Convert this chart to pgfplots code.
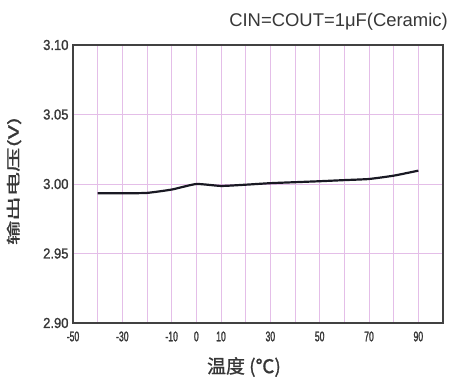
\documentclass[border=0pt]{standalone}
\usepackage{fontspec}
\setmainfont{Liberation Sans}
\newfontfamily\cjk[FakeBold=1]{Noto Sans CJK SC}
\newfontfamily\narrowx[FakeStretch=0.62, FakeBold=1.5]{Liberation Sans}
\newfontfamily\narrowy[FakeStretch=0.9, FakeBold=1.2]{Liberation Sans}
\usepackage{pgfplots}
\pgfplotsset{compat=1.18}
\definecolor{gridpink}{RGB}{228,190,232}
\definecolor{framegray}{RGB}{65,65,65}
\definecolor{curvecol}{RGB}{25,25,35}
\definecolor{labgray}{RGB}{55,55,55}
\begin{document}
\begin{tikzpicture}[x=1bp,y=1bp]
\useasboundingbox (0,0) rectangle (451,383);
\begin{axis}[at={(73bp,60bp)}, anchor=south west, scale only axis,
  width=370bp, height=278bp,
  xmin=-50, xmax=100, ymin=2.9, ymax=3.1,
  xtick={-50,-30,-10,0,10,30,50,70,90},
  minor xtick={-40,-30,-20,-10,0,10,20,30,40,50,60,70,80,90},
  ytick={2.90,2.95,3.00,3.05,3.10},
  minor ytick={2.95,3.00,3.05},
  xmajorgrids=false, ymajorgrids=false,
  xminorgrids=true, yminorgrids=true,
  minor grid style={draw=gridpink, line width=0.8bp},
  tick style={draw=none},
  major tick length=0pt, minor tick length=0pt,
  axis line style={framegray, line width=1.8bp},
  /pgf/number format/assume math mode=true,
  y tick label style={/pgf/number format/fixed, /pgf/number format/fixed zerofill, /pgf/number format/precision=2},
  xticklabel style={font=\narrowx\fontsize{14}{16}\selectfont, text=labgray, yshift=-5bp},
  yticklabel style={font=\narrowy\fontsize{14.5}{16}\selectfont, text=labgray, xshift=-1bp},
]
\addplot[curvecol, line width=2.2bp, smooth, tension=0.3] coordinates {
(-40,2.9933) (-30,2.9933) (-20,2.9936) (-10,2.9960) (0,3.0000) (10,2.9986)
(20,2.9995) (30,3.0006) (40,3.0013) (50,3.0020) (60,3.0028) (70,3.0036)
(80,3.0060) (90,3.0096)
};
\draw[framegray, line width=1.8bp] (rel axis cs:0,0) rectangle (rel axis cs:1,1);
\end{axis}
\node[anchor=east, font=\fontsize{18.5}{20}\selectfont, text=labgray, inner sep=0pt] at (448,361) {CIN=COUT=1μF(Ceramic)};
\node[rotate=90, font=\cjk\fontsize{14}{16}\selectfont, text=labgray] at (14,202) {\scalebox{1.75}[1]{输出电压(V)}};
\node[font=\cjk\fontsize{19}{21}\selectfont, text=labgray] at (244,16) {温度 (℃)};
\end{tikzpicture}
\end{document}
